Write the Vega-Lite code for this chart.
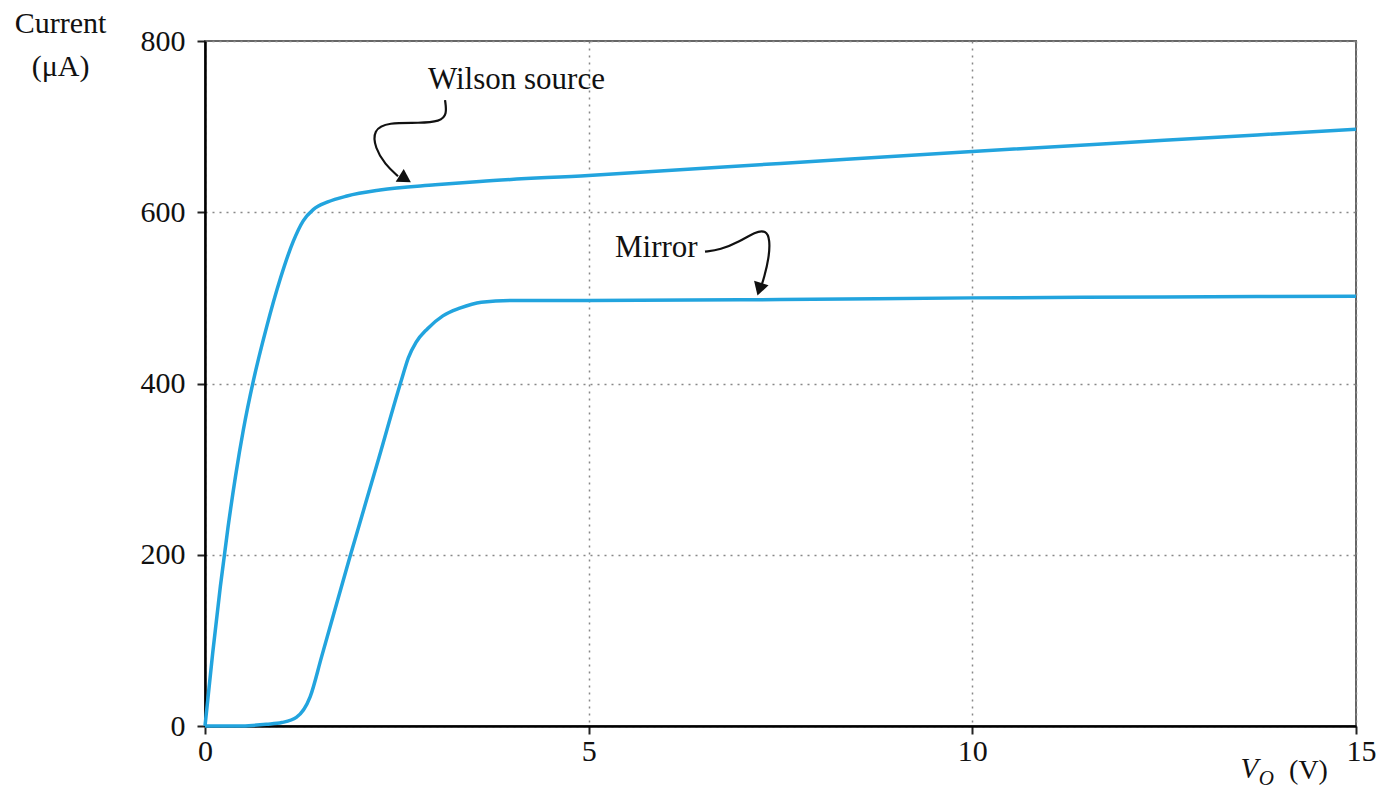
{
  "$schema": "https://vega.github.io/schema/vega-lite/v6.json",
  "width": 1151,
  "height": 685,
  "autosize": {"type": "none"},
  "padding": {"left": 205, "top": 41, "right": 23, "bottom": 65},
  "background": "white",
  "config": {
    "view": {"stroke": "#666", "strokeWidth": 2},
    "font": "Liberation Serif"
  },
  "encoding": {
    "x": {
      "field": "V", "type": "quantitative",
      "scale": {"domain": [0, 15], "nice": false, "zero": false},
      "axis": {
        "values": [0, 5, 10, 15], "format": "d",
        "grid": true, "gridDash": [2, 5], "gridColor": "#888", "gridWidth": 1.5,
        "domainColor": "black", "domainWidth": 2.5,
        "tickColor": "#222", "tickSize": 8, "tickWidth": 2,
        "labelFont": "Liberation Serif", "labelFontSize": 30, "labelColor": "#111", "labelPadding": 2,
        "labelAlign": "center",
        "labelOffset": {"condition": {"test": "datum.value === 15", "value": 5}, "value": 0},
        "title": "(V)", "titleFont": "Liberation Serif", "titleFontSize": 28, "titleFontWeight": "normal",
        "titleColor": "#111", "titleX": 1103, "titleY": 44, "titleBaseline": "middle", "titleAlign": "center"
      }
    },
    "y": {
      "field": "I", "type": "quantitative",
      "scale": {"domain": [0, 800], "nice": false},
      "axis": {
        "values": [0, 200, 400, 600, 800],
        "grid": true, "gridDash": [2, 5], "gridColor": "#888", "gridWidth": 1.5,
        "domainColor": "black", "domainWidth": 2.5,
        "tickColor": "#222", "tickSize": 8, "tickWidth": 2,
        "labelFont": "Liberation Serif", "labelFontSize": 30, "labelColor": "#111", "labelPadding": 12,
        "title": ["Current", "(μA)"], "titleAngle": 0, "titleFont": "Liberation Serif", "titleFontSize": 30,
        "titleFontWeight": "normal", "titleColor": "#111", "titleX": -145, "titleY": -9,
        "titleAlign": "center", "titleBaseline": "alphabetic", "titleLineHeight": 43
      }
    }
  },
  "layer": [
    {
      "data": {"values": [
        {"curve": "Wilson source", "V": 0, "I": 0},
        {"curve": "Wilson source", "V": 0.1, "I": 85},
        {"curve": "Wilson source", "V": 0.2, "I": 163},
        {"curve": "Wilson source", "V": 0.3, "I": 232},
        {"curve": "Wilson source", "V": 0.4, "I": 293},
        {"curve": "Wilson source", "V": 0.5, "I": 346},
        {"curve": "Wilson source", "V": 0.63, "I": 403},
        {"curve": "Wilson source", "V": 0.8, "I": 465},
        {"curve": "Wilson source", "V": 0.98, "I": 522},
        {"curve": "Wilson source", "V": 1.15, "I": 566},
        {"curve": "Wilson source", "V": 1.28, "I": 590},
        {"curve": "Wilson source", "V": 1.41, "I": 603},
        {"curve": "Wilson source", "V": 1.6, "I": 612},
        {"curve": "Wilson source", "V": 1.85, "I": 619},
        {"curve": "Wilson source", "V": 2.28, "I": 626},
        {"curve": "Wilson source", "V": 3.0, "I": 632},
        {"curve": "Wilson source", "V": 3.58, "I": 636},
        {"curve": "Wilson source", "V": 5, "I": 643},
        {"curve": "Wilson source", "V": 7.5, "I": 657},
        {"curve": "Wilson source", "V": 10, "I": 671},
        {"curve": "Wilson source", "V": 12.5, "I": 684},
        {"curve": "Wilson source", "V": 15, "I": 697},
        {"curve": "Mirror", "V": 0, "I": 0},
        {"curve": "Mirror", "V": 0.4, "I": 0},
        {"curve": "Mirror", "V": 0.8, "I": 2},
        {"curve": "Mirror", "V": 1.0, "I": 4},
        {"curve": "Mirror", "V": 1.19, "I": 10},
        {"curve": "Mirror", "V": 1.37, "I": 34},
        {"curve": "Mirror", "V": 1.52, "I": 81},
        {"curve": "Mirror", "V": 1.89, "I": 198},
        {"curve": "Mirror", "V": 2.24, "I": 305},
        {"curve": "Mirror", "V": 2.56, "I": 404},
        {"curve": "Mirror", "V": 2.65, "I": 430},
        {"curve": "Mirror", "V": 2.75, "I": 448},
        {"curve": "Mirror", "V": 2.9, "I": 464},
        {"curve": "Mirror", "V": 3.1, "I": 479},
        {"curve": "Mirror", "V": 3.32, "I": 488},
        {"curve": "Mirror", "V": 3.6, "I": 495},
        {"curve": "Mirror", "V": 4, "I": 497},
        {"curve": "Mirror", "V": 5, "I": 497},
        {"curve": "Mirror", "V": 7.5, "I": 498},
        {"curve": "Mirror", "V": 10, "I": 500},
        {"curve": "Mirror", "V": 12.5, "I": 501},
        {"curve": "Mirror", "V": 15, "I": 502}
      ]},
      "mark": {"type": "line", "color": "#22a4de", "strokeWidth": 3.5, "interpolate": "monotone", "clip": false},
      "encoding": {"detail": {"field": "curve"}}
    },
    {
      "data": {"values": [
        {"arrow": "w", "k": 1, "V": 3.128, "I": 731},
        {"arrow": "w", "k": 2, "V": 3.154, "I": 714},
        {"arrow": "w", "k": 3, "V": 3.063, "I": 706},
        {"arrow": "w", "k": 4, "V": 2.802, "I": 704},
        {"arrow": "w", "k": 5, "V": 2.385, "I": 705},
        {"arrow": "w", "k": 6, "V": 2.19, "I": 696},
        {"arrow": "w", "k": 7, "V": 2.216, "I": 675},
        {"arrow": "w", "k": 8, "V": 2.346, "I": 656},
        {"arrow": "w", "k": 9, "V": 2.515, "I": 642},
        {"arrow": "m", "k": 1, "V": 6.516, "I": 554},
        {"arrow": "m", "k": 2, "V": 6.712, "I": 556},
        {"arrow": "m", "k": 3, "V": 6.972, "I": 566},
        {"arrow": "m", "k": 4, "V": 7.168, "I": 577},
        {"arrow": "m", "k": 5, "V": 7.311, "I": 579},
        {"arrow": "m", "k": 6, "V": 7.363, "I": 568},
        {"arrow": "m", "k": 7, "V": 7.35, "I": 547},
        {"arrow": "m", "k": 8, "V": 7.285, "I": 523},
        {"arrow": "m", "k": 9, "V": 7.25, "I": 514}
      ]},
      "mark": {"type": "line", "color": "#111", "strokeWidth": 2.2, "interpolate": "basis"},
      "encoding": {"detail": {"field": "arrow"}, "order": {"field": "k", "type": "quantitative"}}
    },
    {
      "data": {"values": [{"V": 2.61, "I": 639}]},
      "mark": {"type": "point", "shape": "triangle-up", "filled": true, "color": "#111", "opacity": 1, "size": 230, "angle": 122}
    },
    {
      "data": {"values": [{"V": 7.225, "I": 510}]},
      "mark": {"type": "point", "shape": "triangle-up", "filled": true, "color": "#111", "opacity": 1, "size": 230, "angle": 197}
    },
    {
      "data": {"values": [
        {"label": "Wilson source", "V": 2.906, "I": 754},
        {"label": "Mirror", "V": 5.343, "I": 558}
      ]},
      "mark": {"type": "text", "font": "Liberation Serif", "fontSize": 31, "color": "#111", "align": "left", "baseline": "middle"},
      "encoding": {"text": {"field": "label"}}
    },
    {
      "data": {"values": [{"label": "V", "V": 13.61, "I": -50}]},
      "mark": {"type": "text", "font": "Liberation Serif", "fontSize": 29, "fontStyle": "italic", "color": "#111", "align": "center", "baseline": "middle", "clip": false},
      "encoding": {"text": {"field": "label"}}
    },
    {
      "data": {"values": [{"label": "O", "V": 13.83, "I": -62}]},
      "mark": {"type": "text", "font": "Liberation Serif", "fontSize": 21, "fontStyle": "italic", "color": "#111", "align": "center", "baseline": "middle", "clip": false},
      "encoding": {"text": {"field": "label"}}
    }
  ]
}
